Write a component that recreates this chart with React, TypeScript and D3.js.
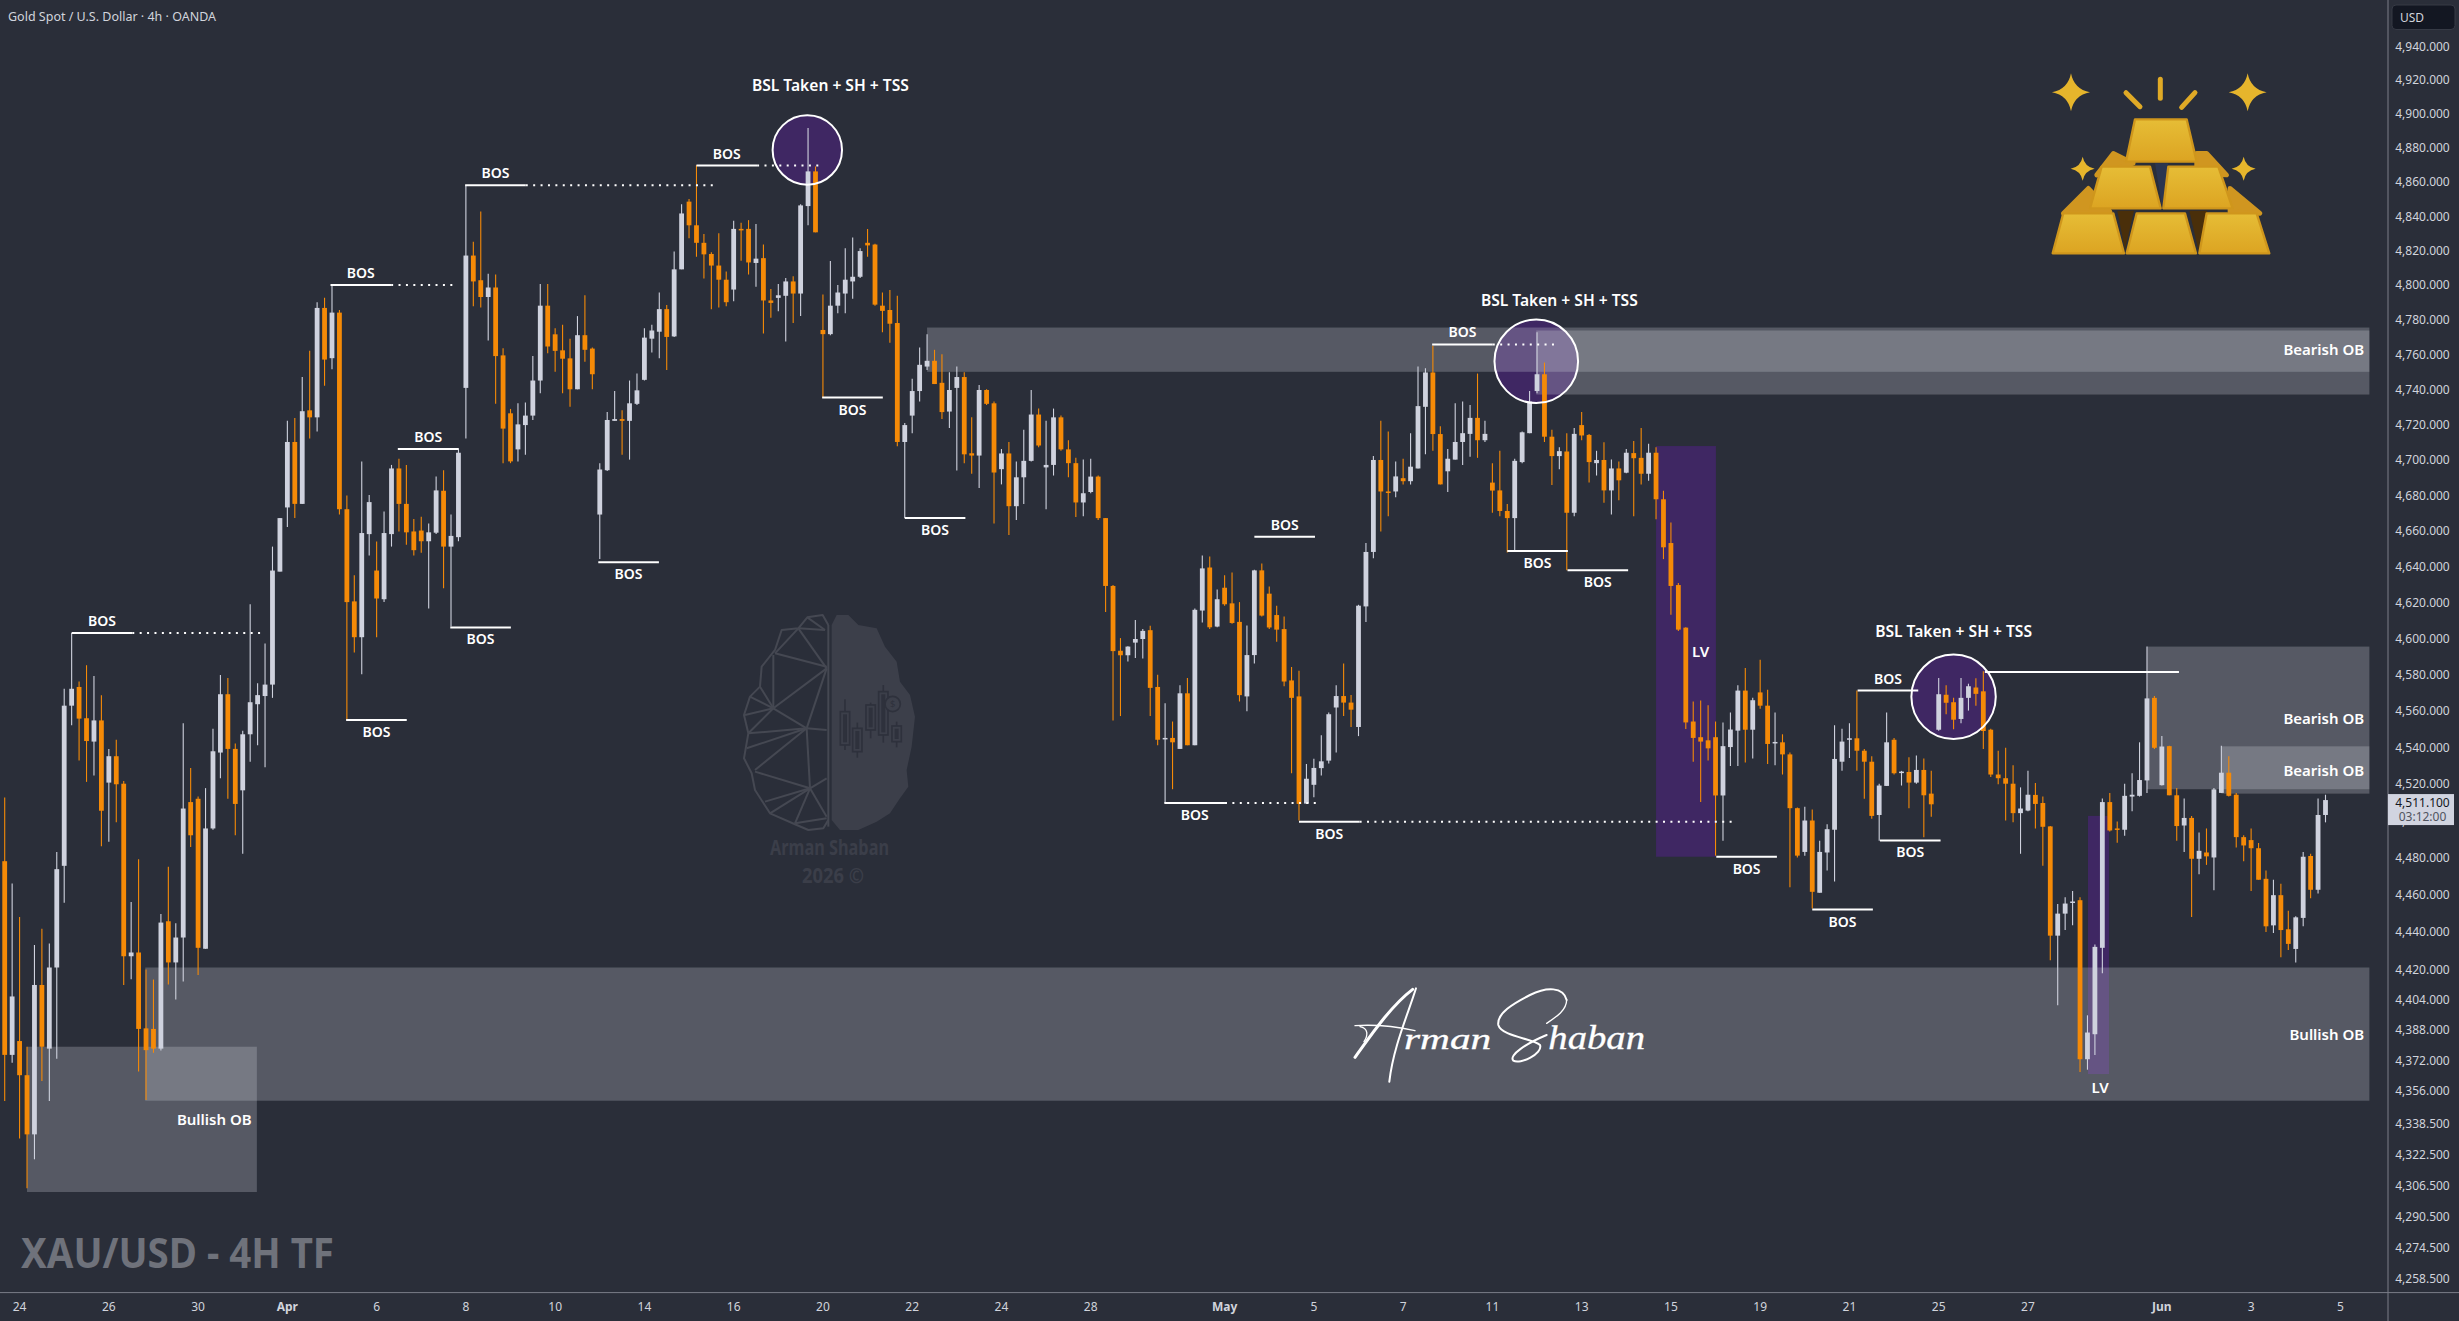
import * as d3 from "d3";
import { useEffect, useRef } from "react";

// 4h candles, left to right
const highs = [
  4512.5,4466,4448,4379,4433,4441.7,4433.8,4483,4572,4602.8,
  4576,4585,4579,4568.5,4539,4544,4521.5,4456,4479,4420,
  4414.6,4449.6,4475,4444.6,4553,4528.5,4513,4517.6,4550,4579.6,
  4578,4542,4549,4618.8,4575,4597,4651,4667,4722,4723.7,
  4747,4762,4790,4792.5,4800,4785.5,4679.7,4635,4699,4680,
  4653.8,4670.7,4697,4700.5,4697,4666.5,4667.7,4664,4690.5,4694,
  4669,4706.5,4858,4825,4842.7,4806.5,4806,4763.5,4728.8,4732,
  4732.4,4759,4800.5,4800.5,4775,4777,4769,4782,4794,4764,
  4698,4727,4739,4728,4745,4749,4775,4777,4795.6,4788.4,
  4819.3,4846.8,4850,4869.8,4829.5,4818.9,4830,4807.7,4837.3,4836.1,
  4837.6,4835.4,4823.4,4797.6,4800.5,4804,4805,4846.8,4891.6,4869,
  4794.4,4813.8,4800,4821.3,4827.5,4821.3,4832.5,4823.8,4795.6,4797,
  4793.7,4720.8,4746,4764,4771.5,4762.6,4760,4749.8,4753,4749.8,
  4724,4742.5,4740,4733,4706,4710,4699,4717,4739.6,4729,
  4722,4729,4725,4711,4701,4700,4700.5,4691,4667,4629.5,
  4600,4595.5,4610,4605,4606.8,4579.8,4564,4554,4574,4578,
  4616.5,4646,4645.4,4627,4635,4636.5,4620,4607,4638,4641.6,
  4628.7,4618,4612,4584,4582,4530.8,4533.6,4546.5,4559,4574,
  4586,4568.6,4618.5,4653,4702,4722,4716,4699,4700.5,4715,
  4753,4752,4765,4719,4706,4732,4733,4731,4749,4722,
  4698,4705,4675,4700.5,4716,4739,4772.7,4755.3,4717,4707,
  4715,4718,4727,4714.6,4705,4709.8,4700,4699,4706,4710.5,
  4718,4709,4707,4682.4,4664.5,4630.7,4606,4565,4565.5,4563,
  4554,4553.5,4559,4574,4583.5,4567,4588,4571.5,4559,4547,
  4537,4507,4507.5,4506,4489,4498,4552,4550,4553,4571,
  4539,4535,4520,4559,4545,4527,4534.5,4535.4,4533.8,4527,
  4578,4574,4567,4578,4574.8,4577.8,4581.7,4550,4538,4539.6,
  4530,4518,4527,4520.4,4513,4497,4455,4458.6,4462,4458.6,
  4395.6,4433.3,4512,4515,4499.5,4520,4525.7,4542.6,4595.3,4568,
  4546,4540.7,4517.6,4512,4502.5,4493.5,4495.7,4517.6,4540.7,4535,
  4515,4492,4495.7,4487.8,4473,4468,4465.8,4451.4,4448.4,4483,
  4482,4512,4514,
];
const opens = [
  4478,4374.7,4382,4364,4333,4411.7,4378,4421,4475.5,4562.7,
  4573,4555.8,4543,4554.6,4520.6,4535,4520,4427,4429,4388.7,
  4388.4,4378,4445.7,4423.7,4437,4510,4511.8,4431,4495.7,4537,
  4569,4539,4516.4,4547,4563.5,4568,4574.3,4637,4673,4710,
  4675,4728,4724,4786.7,4757.8,4784,4672,4620.4,4600.5,4658,
  4637.6,4621.6,4658,4695,4675,4659.5,4660,4654,4658.8,4682.4,
  4651,4656.3,4740.8,4817,4802.7,4793,4798.5,4759.4,4726.3,4705.8,
  4719.6,4725,4745,4788,4771.5,4762.3,4757.7,4740,4771,4763.3,
  4669,4694,4722,4723,4722,4731.7,4745.4,4769,4773,4786,
  4770.3,4809,4848.4,4834.6,4824.4,4817.9,4811.2,4803,4797.3,4832.5,
  4832.5,4812.7,4815.5,4791,4792.5,4793.7,4802,4795,4845.8,4866.1,
  4774,4771.6,4788,4795,4802,4804.7,4824.4,4823.4,4788,4785.5,
  4778,4710,4725,4739,4753,4756.3,4743.7,4727.3,4740.8,4747,
  4703.6,4702.3,4739.6,4732,4694.6,4703.5,4673.7,4690,4699.3,4725.6,
  4695.6,4697,4724,4705.8,4698,4675.8,4681.7,4690.4,4667,4629,
  4593,4590.5,4597.5,4599.5,4604.4,4573,4544.3,4545,4539,4569.5,
  4541,4615.3,4639.3,4606.4,4628,4619.3,4609,4567.8,4590.6,4637.7,
  4624.7,4612.8,4605,4576.6,4567.8,4509.2,4519.4,4528.5,4532.6,4561.7,
  4568,4564.4,4551,4617.6,4648,4699.8,4682,4682,4689.5,4687.8,
  4695,4730,4749.6,4714.5,4693.4,4700,4710,4714.6,4723.7,4711,
  4687,4682.6,4671,4667,4698.6,4715,4739,4748.6,4713,4702,
  4704.6,4670,4719.6,4714,4698,4699.8,4682.6,4695,4692.6,4703.7,
  4701,4692,4703.9,4677.6,4653,4629.5,4605.8,4554,4545.4,4543.7,
  4545.4,4513.6,4540,4549,4571,4549.5,4570,4562.7,4542,4542.6,
  4536,4506.7,4483,4500,4461,4482.7,4495,4532,4544.3,4544.8,
  4538,4532,4503,4518.8,4544,4526,4526.4,4520.6,4527.5,4514.6,
  4549.5,4568.7,4564.6,4555.4,4567,4572.7,4570.6,4549.5,4525,4523,
  4520,4504,4505.4,4513.9,4509.5,4496.8,4438,4449.8,4456,4457,
  4372.4,4385.6,4431.5,4510,4495.7,4495,4513,4513.4,4521.8,4567,
  4519.2,4540.5,4513.7,4497.3,4501.4,4479.3,4482.7,4480,4515,4526,
  4514,4491,4489.4,4485,4468.5,4443.5,4459.7,4441.4,4430.9,4447.5,
  4480.8,4462.6,4503,
];
const closes = [
  4374.7,4405.6,4364,4333,4411.7,4379,4421,4473.7,4562.7,4572,
  4555.6,4543.3,4554.6,4505.3,4535,4519.7,4427,4429,4388.4,4377.2,
  4378,4445,4423.7,4437,4506.5,4492,4431.5,4495.7,4537.7,4569,
  4539,4509,4547,4564.6,4568.5,4574.3,4637.6,4667,4710,4675,
  4727.5,4724,4786.7,4757,4784,4672,4620,4600.5,4658.6,4676,
  4622,4658.6,4695,4675,4659,4649,4654,4659,4682.6,4651,
  4657,4703.9,4817,4802,4793,4798.5,4759,4717.6,4699,4720,
  4725,4745,4788,4764.5,4762,4757.5,4740,4771,4762.6,4748.6,
  4694.4,4722.5,4723,4722,4732,4739.4,4769.6,4773.7,4786,4770,
  4809,4841.5,4834.6,4824.4,4817.7,4811.2,4803,4790,4832.5,4832,
  4813,4815.2,4791,4789.6,4794,4802,4795,4846.2,4866.1,4830.5,
  4771.6,4788,4795.6,4803,4804.7,4819.6,4822.9,4788.6,4785,4777.6,
  4710,4719.6,4739,4754,4756.3,4743,4727,4739.6,4747,4703,
  4702.3,4739.6,4731.7,4692.7,4703.5,4673.7,4690,4699.3,4725.6,4708,
  4697,4724,4705.8,4698,4675.8,4681,4690.4,4667,4629,4592.8,
  4590.5,4595.3,4599.5,4604,4572.5,4544,4545,4542.6,4569.5,4541,
  4615.7,4638.8,4606,4621.6,4618.8,4608.4,4568.5,4590.6,4637.7,4612.5,
  4605.9,4604.7,4576,4567,4509,4522.7,4528.6,4532.2,4558,4568,
  4564.4,4560.5,4618,4648,4699.8,4682,4681.5,4690.5,4687.8,4696,
  4730.4,4749.6,4714.5,4686,4700.5,4710,4715,4723.7,4711,4714.6,
  4682.5,4671,4667,4699.3,4715.5,4733,4748.6,4713,4702,4704.8,
  4670,4714.6,4713.7,4698.6,4699.8,4682.6,4695,4688.3,4703.9,4700.8,
  4692,4703.9,4677.6,4650.6,4629,4604.7,4553.5,4545,4543,4539.3,
  4513.6,4540.5,4549.6,4571,4549.5,4565.7,4562.7,4541.7,4542.8,4536,
  4506.7,4481,4500,4461.5,4483,4495.3,4533.5,4543,4544.8,4538,
  4532,4502.5,4519,4542.6,4525.7,4526.6,4520.6,4527.5,4513.7,4508.8,
  4569,4564.3,4555,4567,4573.4,4569.2,4548.8,4525,4523,4520,
  4504,4506.5,4514,4509,4496.6,4438,4449.8,4455.2,4456.3,4372.4,
  4386.5,4432,4510,4494.6,4495,4513.4,4514,4522,4566.7,4539.6,
  4540.3,4513.7,4497,4501.4,4479.3,4483.6,4480.6,4516.9,4526,4513.4,
  4491,4486.5,4485,4468,4443,4459.7,4441,4433.6,4447.8,4480.4,
  4462.6,4503,4511.1,
];
const lows = [
  4350.5,4370.5,4330.9,4305,4320,4361,4350.5,4372.6,4455.6,4552,
  4532.6,4521,4524.5,4486,4488.5,4499,4411.7,4414.7,4366,4351,
  4375.8,4377,4412,4404,4413.5,4485.6,4417,4431,4495,4523,
  4511.8,4492,4482,4532,4541,4529,4567,4637,4662,4667,
  4675,4712,4716,4742,4751.5,4669,4554.9,4592,4580,4646,
  4600.5,4620,4651,4659.5,4652,4646,4647.5,4616.5,4658,4627.7,
  4606.4,4654,4712,4787.7,4787,4768,4731.7,4698,4698,4699,
  4702.7,4722.5,4737.7,4760.6,4750,4737.7,4730,4740,4755.8,4740,
  4644,4693.6,4722,4702.7,4700,4731,4745,4761,4757.8,4751,
  4770,4809,4827,4816.3,4803.7,4786,4787,4787.7,4790.6,4814,
  4806,4799,4772,4781,4784.8,4767.4,4778,4782,4834.6,4830.5,
  4735,4771,4783.6,4783.6,4792,4804,4816.3,4788,4772.7,4766.7,
  4707.6,4667,4715,4733,4751,4743,4723,4718,4693.9,4698,
  4692,4684,4731,4664,4686,4657.5,4666,4675,4699,4707,
  4672,4691,4705,4690,4667.6,4668,4681,4666,4614.5,4554.6,
  4557,4587,4589,4588.7,4557,4541,4509.5,4517,4539,4541,
  4541,4608.7,4605,4606,4618,4608,4565,4559.7,4586,4612,
  4605,4598,4573.4,4525.7,4500,4509,4512.6,4524.5,4531,4537,
  4557,4551,4546,4609,4644.5,4659.5,4668,4678.7,4686,4686,
  4695,4703,4705,4686,4681.7,4700,4697,4701.6,4701,4710,
  4670,4668,4647.7,4649,4698,4715,4737.7,4710,4685.7,4694.6,
  4637.7,4668,4711,4687,4691,4675.6,4669,4677,4692.3,4668,
  4686,4688,4666.4,4644,4613,4604,4549.9,4532,4510,4532.6,
  4481,4489,4529.6,4529.6,4531.5,4533.8,4561,4530.8,4530,4525,
  4464,4480,4481,4452.5,4461,4473,4467,4527,4534,4527,
  4511.8,4501,4489,4518.8,4525,4519,4506.7,4520,4491,4502,
  4549,4558,4549.8,4553,4560,4562.7,4539,4523.6,4519.7,4500,
  4499,4482,4505,4495.7,4475.5,4424.8,4401,4441,4443.5,4365.7,
  4366.9,4374.7,4418,4494,4488,4491.7,4505,4513,4515,4539,
  4519,4513.7,4489,4483,4448,4471,4476,4462.4,4515,4513,
  4485.4,4478,4462,4468,4440,4439.4,4426.4,4430.4,4423.7,4443,
  4458,4460.6,4499,
];

const priceTicks = [
  4940,4920,4900,4880,4860,4840,4820,4800,4780,4760,4740,4720,4700,4680,4660,4640,4620,4600,
  4580,4560,4540,4520,4500,4480,4460,4440,4420,4404,4388,4372,4356,4338.5,4322.5,4306.5,4290.5,4274.5,4258.5,
];
const dateTickBars = [2,14,26,38,50,62,74,86,98,110,122,134,146,164,176,188,200,212,224,236,248,260,272,290,302,314];
const dateTickLabels = ["24","26","30","Apr","6","8","10","14","16","20","22","24","28","May","5","7","11","13","15","19","21","25","27","Jun","3","5"];

// break of structure marks: first bar, price, label side, end of the dotted run
const bosBars = [9,43.8,52.85,61.9,93,79.8,59.9,45.9,109.9,121,191.9,202,210.1,168,155.9,174,230.1,243,249.1,252.1];
const bosPrices = [4602.8,4800,4706,4858,4869.5,4642.3,4605.9,4554.9,4735.3,4667,4765.7,4648.6,4637.8,4656.5,4509.5,4499.3,4480.4,4452,4571,4489.2];
const bosSides = ["a","a","a","a","a","b","b","b","b","b","a","b","b","a","b","b","b","b","a","b"];
const bosDotEnds: (number | null)[] = [34.9,60.3,null,95.6,109.5,null,null,null,null,null,208.6,null,null,null,176.4,232.4,null,null,null,null];

// order blocks
const zoneFrom = [18.9,3,124,205.9,288,298];
const zoneTo = [317.9,33.9,317.9,317.9,317.9,317.9];
const zoneTop = [4421,4379,4775.4,4773.7,4595.3,4540.4];
const zoneBottom = [4350.6,4303,4750,4737,4517,4514.6];
const zoneLabels = ["Bullish OB","Bullish OB","Bearish OB","Bearish OB","Bearish OB"];
const zoneLabelBars = [317.2,33.2,317.2,317.2,317.2];
const zoneLabelPrices = [4385.5,4341,4763,4556,4527.4];

// liquidity voids
const lvFrom = [222,280.07];
const lvTo = [230.05,282.9];
const lvTop = [4707.7,4502.5];
const lvBottom = [4480.4,4364.6];
const lvLabelBars = [228,281.7];
const lvLabelPrices = [4592.7,4357.7];

// swing high circles and their captions
const circleBars = [107.9,205.9,262];
const circlePrices = [4878.7,4756,4567.6];
const circleRadius = [34.7,41.8,42.2];
const captionBars = [111,209,262];
const captionPrices = [4917,4791.5,4604];
const captionText = "BSL Taken + SH + TSS";

const lastPrice = 4511.1;
const countdown = "03:12:00";
const swingLine = { from: 266.2, to: 292.3, price: 4581.3 };

const BG = "#2a2e39";
const UP = "#cfd2de";
const DOWN = "#f58a07";
const PURPLE = "#3f2763";
const FONT = "'Noto Sans', sans-serif";

// watermark outline, coordinates of the logo itself
const brainFill = "M305 75L320 45L355 45L385 75L440 85L465 140L500 185L510 245L540 285L555 350L545 440L530 510L535 560L510 595L480 640L440 665L385 690L330 690L305 660Z";
const brainEdge = "M295 75L278 45L232 52L205 85L155 90L135 150L95 200L90 260L60 290L42 345L55 400L42 475L65 520L75 570L120 640L200 675L235 690L280 685L295 660";
const brainNet = [
  [205,85,290,205],[205,85,285,90],[232,52,285,90],[135,160,205,85],[135,160,290,200],[130,165,130,325],
  [130,325,290,205],[90,260,130,325],[60,290,130,325],[45,345,130,325],[55,400,130,325],[130,325,230,385],
  [230,385,290,205],[230,385,290,390],[55,400,230,385],[50,445,230,385],[75,510,230,385],[230,385,240,565],
  [290,535,240,565],[75,515,240,565],[105,605,240,565],[120,640,240,565],[195,670,240,565],[240,565,290,650],
  [195,670,290,655],[295,75,295,680],
];
const brainCandles = [
  [345,298,335,435,450],[382,368,385,455,473],[422,308,315,390,415],[460,255,275,405,428],[500,365,378,425,442],
];

// gold bars icon
const goldFaces = [
  "M315 208L470 208L500 335L288 335Z",
  "M215 350L360 350L392 475L180 475Z",
  "M415 350L565 350L608 475L400 475Z",
  "M100 490L250 490L282 610L68 610Z",
  "M320 490L465 490L498 610L290 610Z",
  "M530 490L680 490L718 610L508 610Z",
];
const goldBacks = [
  "M100 490L175 415L240 485Z",
  "M600 415L690 490L600 485Z",
  "M200 375L250 310L310 340Z",
  "M500 310L530 310L590 375L500 370Z",
];
const goldGaps = ["M375 340L415 340L397 475Z","M262 482L312 482L285 600Z","M478 482L532 482L505 600Z"];
const goldStars = [[123,127,57],[653,127,57],[158,356,36],[641,356,36]];
const goldRays = [[391,88,391,145],[288,128,330,170],[495,128,455,172]];

export default function App() {
  const svgRef = useRef<SVGSVGElement | null>(null);

  useEffect(() => {
    if (!svgRef.current) return;
    const svg = d3.select(svgRef.current);
    svg.selectAll("*").remove();

    const W = 2459;
    const H = 1321;
    const axisX = 2388;
    const axisY = 1292.6;

    const x = d3.scaleLinear().domain([0, 312]).range([4.7, 2325.5]);
    const y = d3.scaleLog().domain([4258.5, 4940]).range([1278.3, 46.3]);

    svg.append("rect").attr("width", W).attr("height", H).attr("fill", BG);

    const defs = svg.append("defs");
    const grad = defs.append("linearGradient").attr("id", "goldFace").attr("x1", 0).attr("y1", 0).attr("x2", 0).attr("y2", 1);
    grad.append("stop").attr("offset", "0%").attr("stop-color", "#e6bd36");
    grad.append("stop").attr("offset", "100%").attr("stop-color", "#dca422");

    // watermark
    const mark = svg.append("g").attr("transform", "translate(730,600) scale(0.3333)");
    mark.append("path").attr("d", brainFill).attr("fill", "#3c3f4a");
    mark.append("path").attr("d", brainEdge).attr("fill", "none").attr("stroke", "#454852").attr("stroke-width", 6).attr("stroke-linejoin", "round");
    mark.selectAll("line.net").data(brainNet).join("line")
      .attr("x1", (d) => d[0]).attr("y1", (d) => d[1]).attr("x2", (d) => d[2]).attr("y2", (d) => d[3])
      .attr("stroke", "#454852").attr("stroke-width", 6);
    brainCandles.forEach((c) => {
      const col = "#2e313c";
      mark.append("line").attr("x1", c[0]).attr("x2", c[0]).attr("y1", c[1]).attr("y2", c[4]).attr("stroke", col).attr("stroke-width", 5);
      mark.append("rect").attr("x", c[0] - 14).attr("width", 28).attr("y", c[2]).attr("height", c[3] - c[2])
        .attr("fill", "#3c3f4a").attr("stroke", col).attr("stroke-width", 5);
      mark.append("rect").attr("x", c[0] - 6).attr("width", 12).attr("y", c[2] + 8).attr("height", c[3] - c[2] - 16).attr("fill", col);
    });
    mark.append("circle").attr("cx", 488).attr("cy", 312).attr("r", 23).attr("fill", "#3c3f4a").attr("stroke", "#2e313c").attr("stroke-width", 5);
    mark.append("text").attr("x", 488).attr("y", 322).attr("text-anchor", "middle").attr("font-size", 28).attr("font-family", FONT).attr("fill", "#2e313c").text("$");
    svg.append("text").attr("x", 770).attr("y", 855).attr("font-family", FONT)
      .attr("font-weight", 700).attr("font-size", 21).attr("fill", "#3b3e49")
      .attr("textLength", 119).attr("lengthAdjust", "spacingAndGlyphs").text("Arman Shaban");
    svg.append("text").attr("x", 802).attr("y", 883).attr("font-family", FONT)
      .attr("font-weight", 700).attr("font-size", 21).attr("fill", "#3b3e49")
      .attr("textLength", 62).attr("lengthAdjust", "spacingAndGlyphs").text("2026 ©");

    // gold icon
    const gold = svg.append("g").attr("transform", "translate(2030,50) scale(0.3333)");
    goldStars.forEach(([cx, cy, r]) => {
      const k = r * 0.16;
      gold.append("path")
        .attr("d", `M${cx} ${cy - r}Q${cx + k} ${cy - k} ${cx + r} ${cy}Q${cx + k} ${cy + k} ${cx} ${cy + r}Q${cx - k} ${cy + k} ${cx - r} ${cy}Q${cx - k} ${cy - k} ${cx} ${cy - r}Z`)
        .attr("fill", "#e6b52c");
    });
    goldRays.forEach((r) => {
      gold.append("line").attr("x1", r[0]).attr("y1", r[1]).attr("x2", r[2]).attr("y2", r[3])
        .attr("stroke", "#e0aa26").attr("stroke-width", 15).attr("stroke-linecap", "round");
    });
    goldBacks.forEach((d) => {
      gold.append("path").attr("d", d).attr("fill", "#d09620").attr("stroke", "#d09620").attr("stroke-width", 14).attr("stroke-linejoin", "round");
    });
    gold.append("path").attr("d", goldGaps[0]).attr("fill", "#2b3550");
    gold.append("path").attr("d", goldGaps[1]).attr("fill", "#4a2f0a");
    gold.append("path").attr("d", goldGaps[2]).attr("fill", "#4a2f0a");
    goldFaces.forEach((d) => {
      gold.append("path").attr("d", d).attr("fill", "url(#goldFace)").attr("stroke", "#cf961c").attr("stroke-width", 7).attr("stroke-linejoin", "round");
    });

    // purple fills go under the zones, the zones tint them where they cross
    svg.append("g").selectAll("rect").data(lvFrom).join("rect")
      .attr("x", (d) => x(d)).attr("width", (d, i) => x(lvTo[i]) - x(d))
      .attr("y", (d, i) => y(lvTop[i])).attr("height", (d, i) => y(lvBottom[i]) - y(lvTop[i]))
      .attr("fill", PURPLE);
    svg.append("g").selectAll("circle").data(circleBars).join("circle")
      .attr("cx", (d) => x(d)).attr("cy", (d, i) => y(circlePrices[i])).attr("r", (d, i) => circleRadius[i])
      .attr("fill", PURPLE);

    svg.append("g").selectAll("rect").data(zoneFrom).join("rect")
      .attr("x", (d) => x(d)).attr("width", (d, i) => x(zoneTo[i]) - x(d))
      .attr("y", (d, i) => y(zoneTop[i])).attr("height", (d, i) => y(zoneBottom[i]) - y(zoneTop[i]))
      .attr("fill", "#d1d4dc").attr("fill-opacity", 0.263);

    // candles
    const candles = svg.append("g");
    const bars = d3.range(highs.length);
    const color = (i: number) => (closes[i] >= opens[i] ? UP : DOWN);
    candles.selectAll("line").data(bars).join("line")
      .attr("x1", (i) => x(i)).attr("x2", (i) => x(i))
      .attr("y1", (i) => y(highs[i])).attr("y2", (i) => y(lows[i]))
      .attr("stroke", color).attr("stroke-width", 1.1);
    candles.selectAll("rect").data(bars).join("rect")
      .attr("x", (i) => x(i) - 2.4).attr("width", 4.8)
      .attr("y", (i) => y(Math.max(opens[i], closes[i])))
      .attr("height", (i) => Math.max(1.5, Math.abs(y(opens[i]) - y(closes[i]))))
      .attr("fill", color);

    // BOS marks
    const bosLen = 8.15;
    const bos = svg.append("g");
    bosBars.forEach((b, i) => {
      const py = y(bosPrices[i]);
      bos.append("line").attr("x1", x(b)).attr("x2", x(b + bosLen)).attr("y1", py).attr("y2", py)
        .attr("stroke", "#fff").attr("stroke-width", 2);
      const end = bosDotEnds[i];
      if (end !== null) {
        bos.append("line").attr("x1", x(b + bosLen)).attr("x2", x(end)).attr("y1", py).attr("y2", py)
          .attr("stroke", "#fff").attr("stroke-width", 2).attr("stroke-dasharray", "2 5.4");
      }
      bos.append("text").attr("x", x(b + bosLen / 2)).attr("y", py + (bosSides[i] === "a" ? -7 : 17))
        .attr("text-anchor", "middle").attr("font-family", FONT).attr("font-weight", 600).attr("font-size", 14)
        .attr("fill", "#fff").text("BOS");
    });
    bos.append("line").attr("x1", x(swingLine.from)).attr("x2", x(swingLine.to))
      .attr("y1", y(swingLine.price)).attr("y2", y(swingLine.price)).attr("stroke", "#fff").attr("stroke-width", 2);

    // circle outlines
    svg.append("g").selectAll("circle").data(circleBars).join("circle")
      .attr("cx", (d) => x(d)).attr("cy", (d, i) => y(circlePrices[i])).attr("r", (d, i) => circleRadius[i])
      .attr("fill", "none").attr("stroke", "#fff").attr("stroke-width", 2);

    const label = (px: number, py: number, txt: string, anchor: string, size = 15) =>
      svg.append("text").attr("x", px).attr("y", py).attr("text-anchor", anchor).attr("dominant-baseline", "central")
        .attr("font-family", FONT).attr("font-weight", 600).attr("font-size", size).attr("fill", "#fff").text(txt);

    captionBars.forEach((b, i) => label(x(b), y(captionPrices[i]), captionText, "middle", 15.6));
    zoneLabels.forEach((t, i) => label(x(zoneLabelBars[i]), y(zoneLabelPrices[i]), t, "end"));
    lvLabelBars.forEach((b, i) => label(x(b), y(lvLabelPrices[i]), "LV", "middle"));

    // signature
    const sig = svg.append("g").attr("transform", "translate(1340,970) scale(0.3333)")
      .attr("fill", "none").attr("stroke", "#fff").attr("stroke-linecap", "round");
    sig.append("path").attr("d", "M45 262C90 200 150 110 218 58").attr("stroke-width", 9);
    sig.append("path").attr("d", "M228 55C205 130 160 230 148 335").attr("stroke-width", 6);
    sig.append("path").attr("d", "M45 167C100 163 170 170 225 182").attr("stroke-width", 4);
    sig.append("path").attr("d", "M60 170C85 175 85 195 72 215").attr("stroke-width", 4);
    sig.append("path").attr("d", "M680 90C670 50 620 50 570 75C520 100 470 130 475 165C485 200 580 205 600 225C610 250 540 285 520 272C505 255 560 220 620 195").attr("stroke-width", 6);
    sig.append("path").attr("d", "M680 90C680 120 650 140 620 160").attr("stroke-width", 4);
    sig.append("text").attr("x", 192).attr("y", 236).attr("font-family", "'Liberation Serif', serif").attr("font-style", "italic")
      .attr("font-size", 90).attr("fill", "#fff").attr("stroke", "#fff").attr("stroke-width", 1)
      .attr("textLength", 262).attr("lengthAdjust", "spacingAndGlyphs").text("rman");
    sig.append("text").attr("x", 625).attr("y", 236).attr("font-family", "'Liberation Serif', serif").attr("font-style", "italic")
      .attr("font-size", 100).attr("fill", "#fff").attr("stroke", "#fff").attr("stroke-width", 1)
      .attr("textLength", 290).attr("lengthAdjust", "spacingAndGlyphs").text("haban");

    svg.append("text").attr("x", 21).attr("y", 1268).attr("font-family", FONT).attr("font-weight", 700).attr("font-size", 41)
      .attr("fill", "#6f727b").attr("textLength", 313).attr("lengthAdjust", "spacingAndGlyphs").text("XAU/USD - 4H TF");

    svg.append("text").attr("x", 8).attr("y", 21).attr("font-family", FONT).attr("font-size", 12.5).attr("fill", "#d1d4dc")
      .text("Gold Spot / U.S. Dollar · 4h · OANDA");

    // axes
    const axisCol = "#7a7d88";
    svg.append("line").attr("x1", axisX).attr("x2", axisX).attr("y1", 0).attr("y2", H).attr("stroke", axisCol).attr("stroke-width", 1);
    svg.append("line").attr("x1", 0).attr("x2", W).attr("y1", axisY).attr("y2", axisY).attr("stroke", axisCol).attr("stroke-width", 1);

    const fmt = d3.format(",.3f");
    svg.append("g").selectAll("text").data(priceTicks).join("text")
      .attr("x", 2422.5).attr("y", (d) => y(d)).attr("dominant-baseline", "central").attr("text-anchor", "middle")
      .attr("font-family", FONT).attr("font-size", 12).attr("fill", "#d1d4dc").text((d) => fmt(d));

    svg.append("g").selectAll("text").data(dateTickBars).join("text")
      .attr("x", (d) => x(d)).attr("y", 1306.5).attr("dominant-baseline", "central").attr("text-anchor", "middle")
      .attr("font-family", FONT).attr("font-size", 12).attr("fill", "#d1d4dc")
      .attr("font-weight", (d, i) => (isNaN(+dateTickLabels[i]) ? 700 : 400))
      .text((d, i) => dateTickLabels[i]);

    svg.append("rect").attr("x", 2392).attr("y", 5).attr("width", 63).attr("height", 24.5).attr("rx", 4)
      .attr("fill", "#131722").attr("stroke", "#363a45");
    svg.append("text").attr("x", 2400).attr("y", 17.5).attr("dominant-baseline", "central").attr("font-family", FONT)
      .attr("font-size", 12).attr("fill", "#d1d4dc").text("USD");

    // last price tag
    const tagY = y(lastPrice);
    svg.append("rect").attr("x", axisX).attr("y", tagY - 6).attr("width", 66).attr("height", 31).attr("fill", "#d1d4e0");
    svg.append("text").attr("x", 2422.5).attr("y", tagY + 2).attr("dominant-baseline", "central").attr("text-anchor", "middle")
      .attr("font-family", FONT).attr("font-size", 12).attr("fill", "#131722").text(fmt(lastPrice));
    svg.append("text").attr("x", 2422.5).attr("y", tagY + 16).attr("dominant-baseline", "central").attr("text-anchor", "middle")
      .attr("font-family", FONT).attr("font-size", 12).attr("fill", "#50535e").text(countdown);
  }, []);

  return <svg ref={svgRef} width={2459} height={1321} style={{ position: "absolute", left: 0, top: 0, display: "block" }} />;
}
